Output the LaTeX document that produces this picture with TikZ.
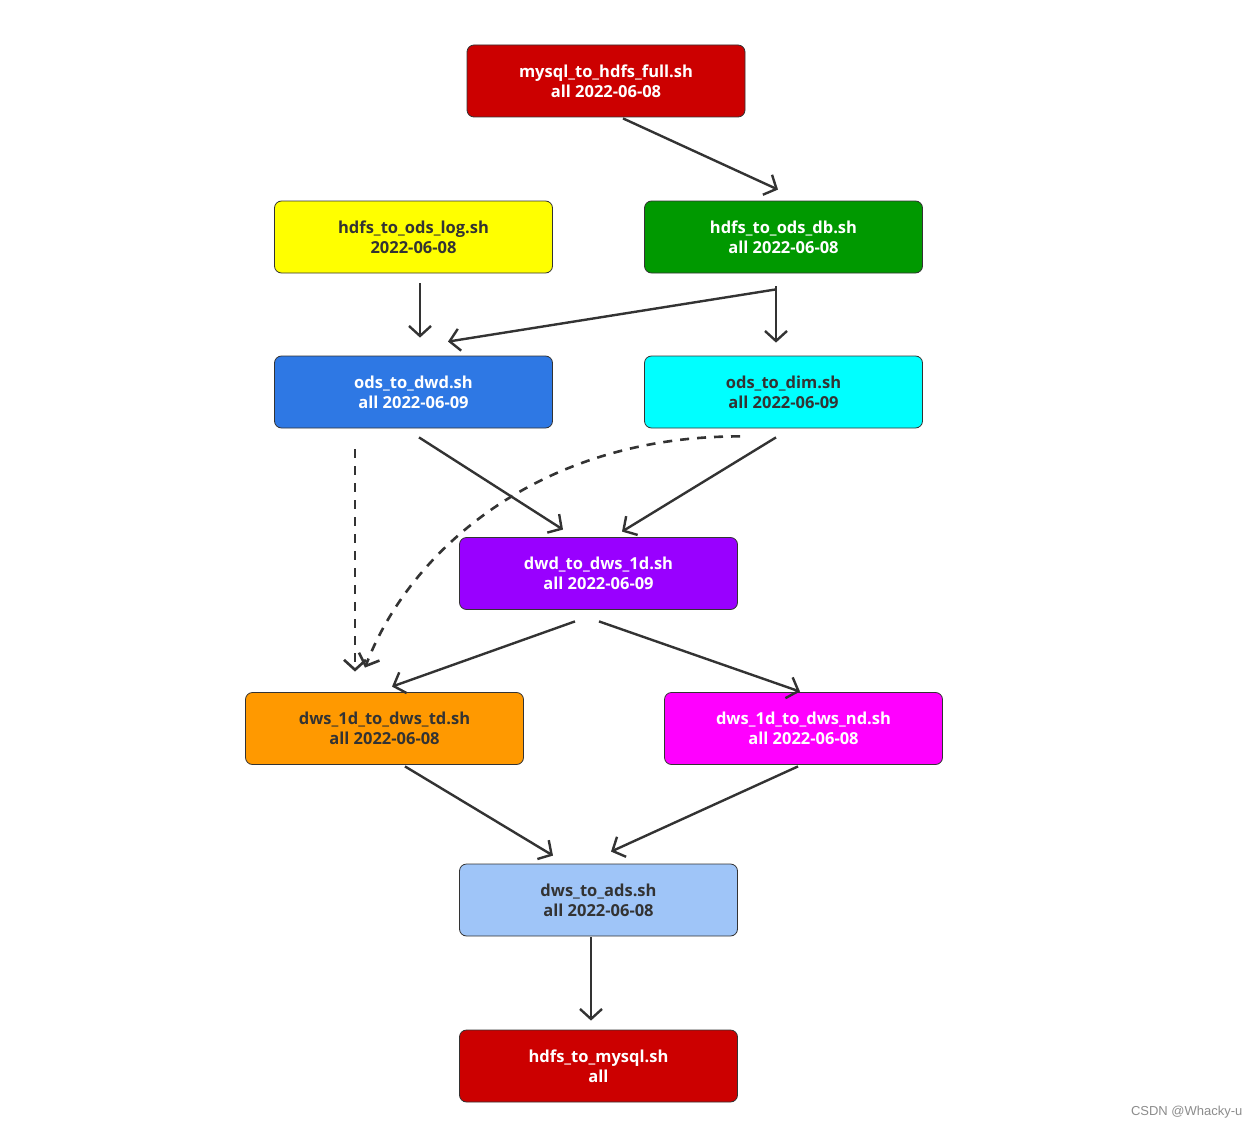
\documentclass[tikz,border=0pt]{standalone}
\usepackage{fontspec}
\setmainfont{Open Sans}
\newfontfamily\wmfont{Liberation Sans}
\usetikzlibrary{arrows.meta}
\definecolor{cred}{HTML}{CC0000}
\definecolor{cyel}{HTML}{FFFF00}
\definecolor{cgrn}{HTML}{009900}
\definecolor{cblu}{HTML}{2E78E4}
\definecolor{ccya}{HTML}{00FFFF}
\definecolor{cpur}{HTML}{9900FF}
\definecolor{corg}{HTML}{FF9900}
\definecolor{cmag}{HTML}{FF00FF}
\definecolor{clbl}{HTML}{9FC5F8}
\definecolor{cdark}{HTML}{333333}
\begin{document}
\begin{tikzpicture}[x=1pt,y=-1pt,
  box/.style={draw=cdark, line width=0.8pt, rounded corners=7pt,
    minimum width=278pt, minimum height=72pt, inner sep=0pt, align=center,
    font=\bfseries\fontsize{16.5}{20}\selectfont},
  wt/.style={text=white},
  dt/.style={text=cdark},
  arr/.style={draw=cdark, line width=2.4pt, -{Straight Barb[length=10pt,width=22pt]}},
  darr/.style={arr, line width=2.6pt, dash pattern=on 9pt off 8pt}]
\useasboundingbox (0,0) rectangle (1259,1129);
\node[box, fill=cred, wt] (n1) at (606,81) {mysql\_to\_hdfs\_full.sh\\all 2022-06-08};
\node[box, fill=cyel, dt] (n2) at (413.5,237) {hdfs\_to\_ods\_log.sh\\2022-06-08};
\node[box, fill=cgrn, wt] (n3) at (783.5,237) {hdfs\_to\_ods\_db.sh\\all 2022-06-08};
\node[box, fill=cblu, wt] (n4) at (413.5,392) {ods\_to\_dwd.sh\\all 2022-06-09};
\node[box, fill=ccya, dt] (n5) at (783.5,392) {ods\_to\_dim.sh\\all 2022-06-09};
\node[box, fill=cpur, wt] (n6) at (598.5,573.5) {dwd\_to\_dws\_1d.sh\\all 2022-06-09};
\node[box, fill=corg, dt] (n7) at (384.5,728.5) {dws\_1d\_to\_dws\_td.sh\\all 2022-06-08};
\node[box, fill=cmag, wt] (n8) at (803.5,728.5) {dws\_1d\_to\_dws\_nd.sh\\all 2022-06-08};
\node[box, fill=clbl, dt] (n9) at (598.5,900) {dws\_to\_ads.sh\\all 2022-06-08};
\node[box, fill=cred, wt] (n10) at (598.5,1066) {hdfs\_to\_mysql.sh\\all};
\node[anchor=east, text=black!45, font=\wmfont\fontsize{13}{15}\selectfont] (wm) at (1246,1112) {CSDN @Whacky-u};
% connectors
\draw[arr] ([xshift=17pt,yshift=-1pt]n1.south) -- ([xshift=-5.5pt,yshift=11pt]n3.north);
\draw[arr] ([xshift=6.5pt,yshift=-10pt]n2.south) -- ([xshift=6.5pt,yshift=18pt]n4.north);
\draw[arr] ([xshift=-7.5pt,yshift=-13pt]n3.south) -- ([xshift=-7.5pt,yshift=13pt]n5.north);
\draw[arr] ([xshift=-7.5pt,yshift=-16pt]n3.south) -- ([xshift=34.5pt,yshift=14pt]n4.north);
\draw[arr] ([xshift=5.5pt,yshift=-9pt]n4.south) -- ([xshift=-35.5pt,yshift=7.5pt]n6.north);
\draw[arr] ([xshift=-7.5pt,yshift=-9pt]n5.south) -- ([xshift=23.5pt,yshift=5.5pt]n6.north);
\draw[darr] ([xshift=-58.5pt,yshift=-21pt]n4.south) -- ([xshift=-29.5pt,yshift=20.5pt]n7.north);
\draw[darr] ([xshift=-43.5pt,yshift=-8pt]n5.south) .. controls (540,436) and (410,550) .. ([xshift=-19.5pt,yshift=24.5pt]n7.north);
\draw[arr] ([xshift=-23.5pt,yshift=-11.5pt]n6.south) -- ([xshift=7.5pt,yshift=5.5pt]n7.north);
\draw[arr] ([xshift=0.5pt,yshift=-11.5pt]n6.south) -- ([xshift=-3.5pt,yshift=0.5pt]n8.north);
\draw[arr] ([xshift=20.5pt,yshift=-1.5pt]n7.south) -- ([xshift=-45.5pt,yshift=8pt]n9.north);
\draw[arr] ([xshift=-5.5pt,yshift=-1.5pt]n8.south) -- ([xshift=12.5pt,yshift=12pt]n9.north);
\draw[arr] ([xshift=-7.5pt,yshift=-1pt]n9.south) -- ([xshift=-7.5pt,yshift=9pt]n10.north);
\end{tikzpicture}
\end{document}
